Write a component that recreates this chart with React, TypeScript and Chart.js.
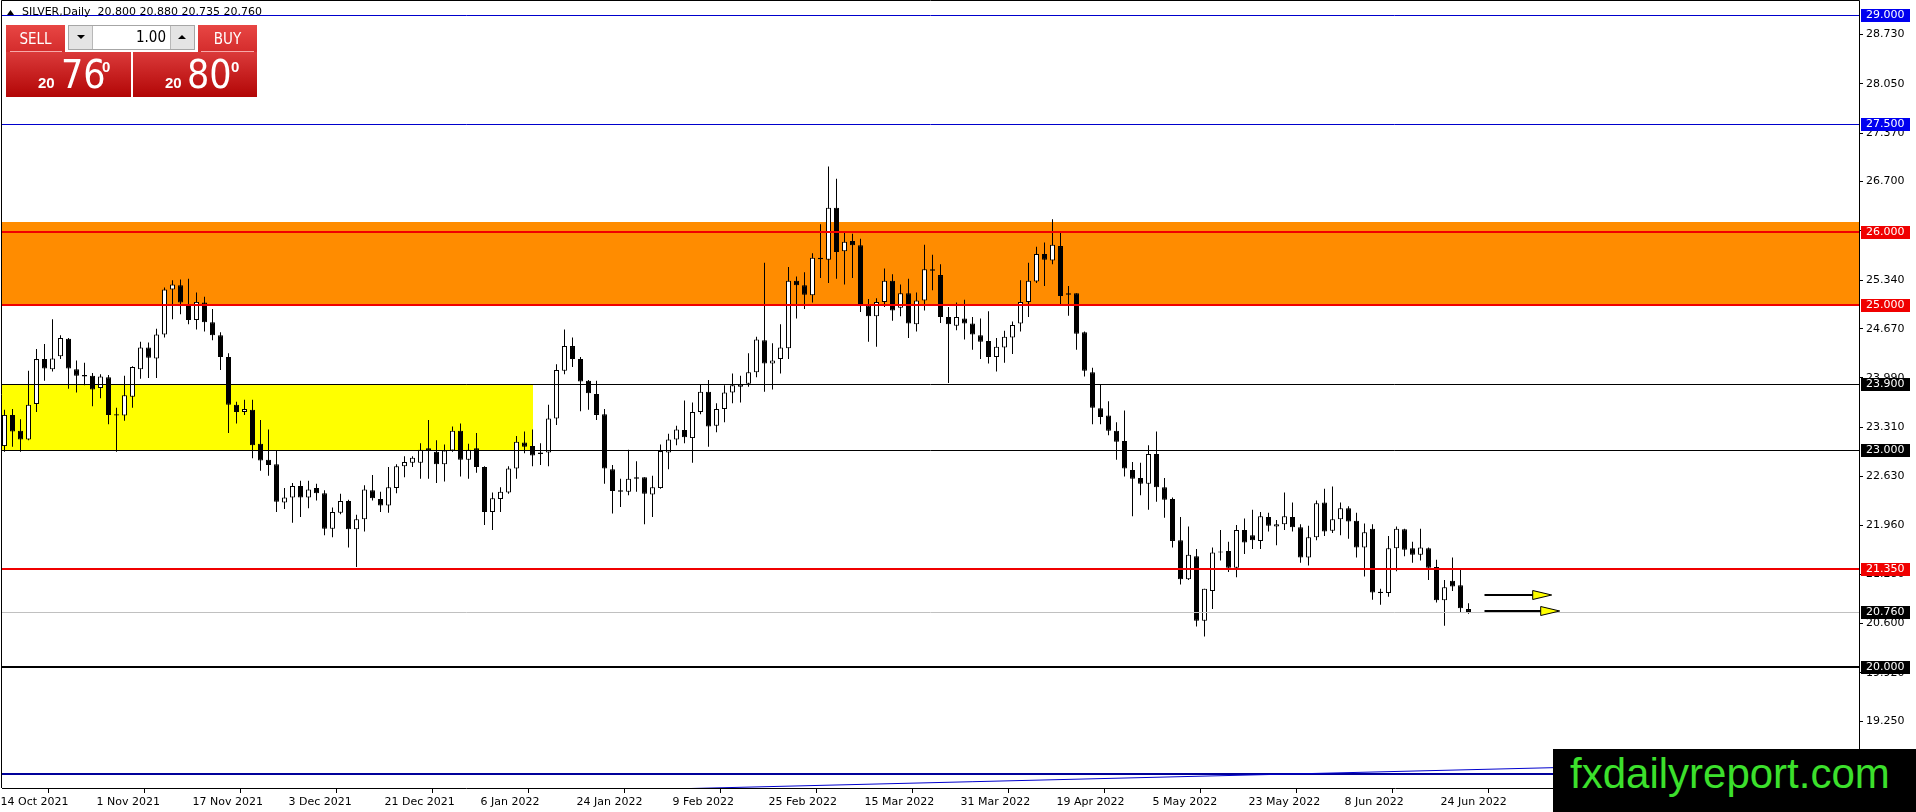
import React, { useEffect, useRef } from "react";
import { Chart, registerables } from "chart.js";

Chart.register(...registerables);

// ---------- data ----------
const SYMBOL = "SILVER,Daily";

const OPEN = [
  23.05, 23.48, 23.26, 23.14, 23.63, 24.25, 24.11, 24.29, 24.53, 24.11,
  24.03, 24.02, 23.85, 24.0, 23.49, 23.47, 23.73, 24.11, 24.41, 24.26,
  24.59, 25.21, 25.27, 25.01, 24.79, 25.03, 24.76, 24.58, 24.28, 23.62,
  23.52, 23.55, 23.08, 22.86, 22.8, 22.27, 22.34, 22.5, 22.34, 22.47,
  22.4, 21.91, 22.13, 22.29, 21.9, 22.04, 22.44, 22.32, 22.23, 22.47,
  22.77, 22.82, 22.82, 23.02, 22.97, 22.8, 22.99, 23.26, 22.86, 23.02,
  22.76, 22.14, 22.32, 22.41, 22.74, 23.1, 23.05, 22.94, 22.96, 23.43,
  24.09, 24.43, 24.25, 23.95, 23.77, 23.49, 22.73, 22.44, 22.42, 22.62,
  22.62, 22.38, 22.47, 22.96, 23.14, 23.27, 23.16, 23.52, 23.8, 23.33,
  23.56, 23.79, 23.87, 23.91, 24.07, 24.51, 24.19, 24.25, 24.4, 25.33,
  25.27, 25.13, 25.65, 25.62, 26.34, 25.74, 25.88, 25.82, 24.99, 24.84,
  25.04, 25.33, 24.96, 25.16, 24.73, 25.06, 25.49, 25.41, 24.83, 24.71,
  24.81, 24.74, 24.58, 24.5, 24.28, 24.41, 24.55, 24.74, 25.04, 25.32,
  25.7, 25.61, 25.81, 25.16, 25.16, 24.62, 24.07, 23.57, 23.47, 23.26,
  23.12, 22.72, 22.61, 22.53, 22.94, 22.48, 22.32, 21.75, 21.21, 21.53,
  20.64, 21.05, 21.58, 21.6, 21.37, 21.89, 21.82, 21.74, 22.07, 21.94,
  21.97, 22.07, 21.93, 21.51, 21.79, 22.27, 21.88, 22.04, 22.19, 22.02,
  21.65, 21.91, 21.04, 21.02, 21.64, 21.9, 21.64, 21.55, 21.64, 21.38,
  20.92, 21.19, 21.13, 20.8,
];

const HIGH = [
  23.55, 23.56, 23.42, 24.09, 24.39, 24.46, 24.8, 24.58, 24.54, 24.23,
  24.2, 24.06, 24.04, 24.03, 23.58, 24.02, 24.15, 24.49, 24.48, 24.67,
  25.24, 25.34, 25.35, 25.36, 25.17, 25.11, 24.94, 24.62, 24.33, 23.66,
  23.69, 23.69, 23.41, 23.28, 22.99, 22.47, 22.54, 22.57, 22.57, 22.53,
  22.44, 22.2, 22.39, 22.31, 22.1, 22.51, 22.65, 22.42, 22.76, 22.8,
  22.91, 22.91, 23.09, 23.41, 23.13, 23.07, 23.32, 23.36, 23.08, 23.23,
  22.77, 22.41, 22.48, 22.77, 23.19, 23.25, 23.28, 23.09, 23.62, 24.18,
  24.66, 24.55, 24.28, 23.96, 23.95, 23.56, 22.79, 22.6, 23.0, 22.84,
  22.62, 22.64, 23.07, 23.22, 23.33, 23.68, 23.65, 23.9, 23.96, 23.64,
  23.89, 24.05, 24.02, 24.33, 24.56, 25.58, 24.47, 24.73, 25.52, 25.39,
  25.45, 25.71, 26.11, 26.91, 26.74, 26.02, 25.98, 25.91, 25.08, 25.09,
  25.5, 25.42, 25.28, 25.36, 25.17, 25.83, 25.69, 25.56, 24.97, 25.03,
  25.07, 24.83, 24.81, 24.91, 24.54, 24.64, 24.77, 25.34, 25.58, 25.8,
  25.86, 26.18, 25.99, 25.26, 25.16, 24.63, 24.13, 23.9, 23.67, 23.38,
  23.54, 22.83, 22.82, 23.06, 23.25, 22.61, 22.34, 22.07, 21.94, 21.63,
  21.08, 21.65, 21.89, 21.73, 21.96, 22.05, 22.17, 22.14, 22.13, 22.03,
  22.41, 22.27, 21.97, 21.95, 22.3, 22.46, 22.49, 22.27, 22.22, 22.13,
  21.98, 21.97, 21.08, 21.81, 21.94, 21.91, 21.73, 21.91, 21.65, 21.48,
  21.2, 21.51, 21.34, 20.88,
];

const LOW = [
  22.97, 23.04, 22.97, 23.13, 23.52, 23.95, 24.08, 24.25, 23.84, 23.79,
  23.89, 23.6, 23.71, 23.35, 22.97, 23.4, 23.58, 23.98, 23.99, 23.99,
  24.55, 24.8, 24.87, 24.73, 24.66, 24.63, 24.51, 24.1, 23.23, 23.36,
  23.48, 22.88, 22.71, 22.64, 22.14, 22.18, 21.99, 22.07, 22.19, 22.3,
  21.82, 21.79, 22.11, 21.65, 21.38, 21.87, 22.3, 22.14, 22.13, 22.4,
  22.62, 22.76, 22.6, 22.6, 22.54, 22.56, 22.97, 22.63, 22.6, 22.68,
  21.96, 21.89, 22.14, 22.39, 22.6, 22.95, 22.77, 22.79, 22.77, 23.34,
  24.04, 24.14, 23.53, 23.55, 23.41, 22.53, 22.12, 22.21, 22.37, 22.42,
  21.97, 22.07, 22.46, 22.73, 23.06, 23.09, 22.82, 23.49, 23.04, 23.24,
  23.38, 23.64, 23.65, 23.87, 24.0, 23.8, 23.83, 24.05, 24.25, 24.81,
  24.94, 25.03, 25.37, 25.3, 25.36, 25.28, 25.37, 24.9, 24.49, 24.42,
  24.97, 24.78, 24.84, 24.54, 24.63, 24.92, 25.2, 24.75, 23.92, 24.65,
  24.52, 24.38, 24.25, 24.19, 24.08, 24.2, 24.32, 24.63, 24.83, 25.3,
  25.26, 25.56, 25.01, 24.85, 24.38, 24.01, 23.35, 23.35, 23.2, 22.86,
  22.63, 22.08, 22.37, 22.17, 22.28, 22.06, 21.65, 21.14, 21.2, 20.56,
  20.42, 20.8, 21.47, 21.31, 21.24, 21.56, 21.63, 21.63, 21.87, 21.68,
  21.89, 21.87, 21.44, 21.4, 21.75, 21.81, 21.85, 21.82, 21.77, 21.51,
  21.25, 20.93, 20.86, 20.97, 21.32, 21.53, 21.44, 21.47, 21.2, 20.89,
  20.57, 21.05, 20.75, 20.735,
];

const CLOSE = [
  23.48, 23.25, 23.14, 23.62, 24.25, 24.12, 24.26, 24.54, 24.12, 24.02,
  24.01, 23.83, 24.01, 23.48, 23.47, 23.75, 24.14, 24.41, 24.27, 24.59,
  25.21, 25.28, 25.03, 24.79, 25.04, 24.76, 24.58, 24.28, 23.62, 23.52,
  23.56, 23.06, 22.85, 22.79, 22.28, 22.34, 22.5, 22.34, 22.45, 22.4,
  21.91, 22.14, 22.29, 21.9, 22.04, 22.45, 22.33, 22.23, 22.48, 22.77,
  22.83, 22.89, 23.0, 22.98, 22.8, 22.99, 23.26, 22.86, 23.0, 22.76,
  22.14, 22.33, 22.42, 22.74, 23.11, 23.04, 22.92, 22.96, 23.43, 24.1,
  24.43, 24.25, 23.94, 23.78, 23.48, 22.74, 22.43, 22.42, 22.6, 22.6,
  22.39, 22.48, 22.98, 23.14, 23.28, 23.17, 23.52, 23.8, 23.32, 23.56,
  23.79, 23.89, 23.9, 24.07, 24.52, 24.19, 24.23, 24.41, 25.33, 25.27,
  25.14, 25.65, 25.63, 26.34, 25.73, 25.87, 25.82, 24.99, 24.84, 25.04,
  25.33, 24.92, 25.16, 24.74, 25.06, 25.49, 25.47, 24.83, 24.73, 24.83,
  24.74, 24.59, 24.49, 24.28, 24.42, 24.56, 24.72, 25.04, 25.33, 25.7,
  25.62, 25.83, 25.12, 25.14, 24.6, 24.09, 23.58, 23.45, 23.26, 23.11,
  22.74, 22.6, 22.53, 22.94, 22.48, 22.31, 21.74, 21.21, 21.55, 20.64,
  21.08, 21.58, 21.59, 21.37, 21.89, 21.72, 21.75, 22.08, 21.95, 21.97,
  22.08, 21.93, 21.51, 21.79, 22.26, 21.87, 22.04, 22.19, 22.01, 21.65,
  21.86, 21.03, 21.02, 21.64, 21.91, 21.62, 21.55, 21.65, 21.37, 20.92,
  21.1, 21.11, 20.81, 20.76,
];

const DATE_LABELS = [
  "14 Oct 2021", "1 Nov 2021", "17 Nov 2021", "3 Dec 2021", "21 Dec 2021",
  "6 Jan 2022", "24 Jan 2022", "9 Feb 2022", "25 Feb 2022", "15 Mar 2022",
  "31 Mar 2022", "19 Apr 2022", "5 May 2022", "23 May 2022", "8 Jun 2022",
  "24 Jun 2022",
];
const DATE_LABEL_BARS = [0, 12, 24, 36, 48, 60, 72, 84, 96, 108, 120, 132, 144, 156, 168, 180];

const PRICE_TICKS = [
  18.57, 19.25, 19.92, 20.6, 21.28, 21.96, 22.63, 23.31, 23.99, 24.67,
  25.34, 26.02, 26.7, 27.37, 28.05, 28.73,
];

const ORANGE_ZONE = [25.0, 26.14];
const YELLOW_ZONE = [23.0, 23.9];
const YELLOW_ZONE_END_BAR = 66;

const LEVELS = [29.0, 27.5, 26.0, 25.0, 23.9, 23.0, 21.35, 20.76, 20.0];
const LEVEL_COLORS = ["#0000cd", "#0000cd", "#f00000", "#f00000", "#000000", "#000000", "#f00000", "#c0c0c0", "#000000"];
const LEVEL_WIDTHS = [1, 1, 2, 2, 1, 1, 2, 1, 2];
const LEVEL_LABEL_BG = ["#0000f0", "#0000f0", "#f00000", "#f00000", "#000000", "#000000", "#f00000", "#000000", "#000000"];

const BASE_LINE = 18.52;
const TREND_BARS = [84, 231.8];
const TREND_PRICES = [18.318, 18.712];

const ARROW_PRICES = [20.99, 20.77];
const ARROW_FROM = [185.0, 185.0];
const ARROW_TO = [193.4, 194.4];

// ---------- scale extents ----------
const X_MIN = -0.3125;
const X_MAX = 231.8125;
const Y_MIN = 18.3298;
const Y_MAX = 29.1794;
const LABEL_SHIFT = 0.5; // time labels sit on the bar's left edge

const FONT = '"DejaVu Sans", sans-serif';

const overlayPlugin = {
  id: "mtOverlay",
  beforeDatasetsDraw(chart: any) {
    const { ctx, chartArea: a, scales } = chart;
    const x = scales.x;
    const y = scales.y;
    ctx.save();
    const oTop = y.getPixelForValue(ORANGE_ZONE[1]);
    const oBot = y.getPixelForValue(ORANGE_ZONE[0]);
    ctx.fillStyle = "#ff8c00";
    ctx.fillRect(a.left, Math.round(oTop), a.right - a.left, Math.round(oBot) - Math.round(oTop));
    const yTop = y.getPixelForValue(YELLOW_ZONE[1]);
    const yBot = y.getPixelForValue(YELLOW_ZONE[0]);
    const yRight = x.getPixelForValue(YELLOW_ZONE_END_BAR);
    ctx.fillStyle = "#ffff00";
    ctx.fillRect(a.left, Math.round(yTop), Math.round(yRight) - a.left, Math.round(yBot) - Math.round(yTop));
    ctx.restore();
  },
  afterDatasetsDraw(chart: any) {
    const { ctx, chartArea: a, scales } = chart;
    const x = scales.x;
    const y = scales.y;
    ctx.save();
    ctx.beginPath();
    ctx.rect(a.left, a.top, a.right - a.left, a.bottom - a.top);
    ctx.clip();

    LEVELS.forEach((v, k) => {
      const py = Math.round(y.getPixelForValue(v));
      const w = LEVEL_WIDTHS[k];
      ctx.strokeStyle = LEVEL_COLORS[k];
      ctx.lineWidth = w;
      const yy = w % 2 === 1 ? py + 0.5 : py;
      ctx.beginPath();
      ctx.moveTo(a.left, yy);
      ctx.lineTo(a.right, yy);
      ctx.stroke();
    });

    const by = Math.round(y.getPixelForValue(BASE_LINE));
    ctx.strokeStyle = "#00009a";
    ctx.lineWidth = 2;
    ctx.beginPath();
    ctx.moveTo(a.left, by);
    ctx.lineTo(a.right, by);
    ctx.stroke();

    ctx.strokeStyle = "#0000cd";
    ctx.lineWidth = 1;
    ctx.beginPath();
    ctx.moveTo(x.getPixelForValue(TREND_BARS[0]), y.getPixelForValue(TREND_PRICES[0]));
    ctx.lineTo(x.getPixelForValue(TREND_BARS[1]), y.getPixelForValue(TREND_PRICES[1]));
    ctx.stroke();

    ARROW_PRICES.forEach((p, k) => {
      const py = Math.round(y.getPixelForValue(p));
      const x0 = x.getPixelForValue(ARROW_FROM[k]);
      const x1 = x.getPixelForValue(ARROW_TO[k]);
      const headLen = 19;
      ctx.strokeStyle = "#000";
      ctx.lineWidth = 2;
      ctx.beginPath();
      ctx.moveTo(x0, py);
      ctx.lineTo(x1 - headLen + 1, py);
      ctx.stroke();
      ctx.beginPath();
      ctx.moveTo(x1 - headLen, py - 4.5);
      ctx.lineTo(x1, py);
      ctx.lineTo(x1 - headLen, py + 4.5);
      ctx.closePath();
      ctx.fillStyle = "#ffff00";
      ctx.fill();
      ctx.lineWidth = 1;
      ctx.strokeStyle = "#000";
      ctx.stroke();
    });
    ctx.restore();
  },
  afterDraw(chart: any) {
    const { ctx, chartArea: a, scales } = chart;
    const y = scales.y;
    ctx.save();

    ctx.strokeStyle = "#000";
    ctx.lineWidth = 1;
    ctx.beginPath();
    ctx.moveTo(1.5, a.bottom);
    ctx.lineTo(1.5, 0.5);
    ctx.lineTo(a.right + 0.5, 0.5);
    ctx.lineTo(a.right + 0.5, a.bottom);
    ctx.stroke();

    const n = OPEN.length - 1;
    ctx.fillStyle = "#000";
    ctx.beginPath();
    ctx.moveTo(7, 15);
    ctx.lineTo(14, 15);
    ctx.lineTo(10.5, 10);
    ctx.closePath();
    ctx.fill();
    ctx.font = `11px ${FONT}`;
    ctx.textBaseline = "middle";
    ctx.textAlign = "left";
    const header = `${SYMBOL}  ${OPEN[n].toFixed(3)} ${HIGH[n].toFixed(3)} ${LOW[n].toFixed(3)} ${CLOSE[n].toFixed(3)}`;
    ctx.fillText(header, 22, 12.5);

    LEVELS.forEach((v, k) => {
      const py = Math.round(y.getPixelForValue(v));
      ctx.fillStyle = LEVEL_LABEL_BG[k];
      ctx.fillRect(a.right + 2, py - 6, 49, 13);
      ctx.fillStyle = "#fff";
      ctx.fillText(v.toFixed(3), a.right + 7, py + 0.5);
    });
    ctx.restore();
  },
};

export default function App() {
  const canvasRef = useRef<HTMLCanvasElement | null>(null);

  useEffect(() => {
    const canvas = canvasRef.current;
    if (!canvas) return;
    const wickData = HIGH.map((h, i) => ({ x: i, y: [LOW[i], h] }));
    const bodyData = OPEN.map((o, i) => ({ x: i, y: [o, CLOSE[i]] }));
    const bodyColors = OPEN.map((o, i) => (CLOSE[i] >= o ? "#ffffff" : "#000000"));

    const chart = new Chart(canvas, {
      type: "bar",
      data: {
        datasets: [
          {
            data: wickData as any,
            backgroundColor: "#000000",
            borderWidth: 0,
            barThickness: 1,
            grouped: false,
            inflateAmount: 0,
            order: 2,
          } as any,
          {
            data: bodyData as any,
            backgroundColor: bodyColors,
            borderColor: "#000000",
            borderWidth: 1,
            borderSkipped: false,
            barThickness: 5,
            minBarLength: 1,
            grouped: false,
            inflateAmount: 0,
            order: 1,
          } as any,
        ],
      },
      options: {
        animation: false,
        responsive: false,
        maintainAspectRatio: false,
        devicePixelRatio: 1,
        events: [],
        layout: { padding: { left: 2, top: 2, right: 0, bottom: 0 } },
        plugins: {
          legend: { display: false },
          tooltip: { enabled: false },
        },
        scales: {
          x: {
            type: "linear",
            min: X_MIN,
            max: X_MAX,
            offset: false,
            afterBuildTicks: (scale: any) => {
              scale.ticks = DATE_LABEL_BARS.map((v) => ({ value: v - LABEL_SHIFT }));
            },
            afterFit: (scale: any) => {
              scale.height = 24;
              scale.paddingLeft = 0;
              scale.paddingRight = 0;
            },
            ticks: {
              autoSkip: false,
              maxRotation: 0,
              minRotation: 0,
              align: "start",
              padding: 3,
              color: "#000",
              font: { family: FONT, size: 11 },
              callback: (value: any) => {
                const k = DATE_LABEL_BARS.indexOf(Math.round(Number(value) + LABEL_SHIFT));
                return k >= 0 ? DATE_LABELS[k] : "";
              },
            },
            grid: {
              drawOnChartArea: false,
              drawTicks: true,
              tickLength: 5,
              color: "#000",
              tickColor: "#000",
            },
            border: { display: true, color: "#000", width: 1 },
          },
          y: {
            type: "linear",
            position: "right",
            min: Y_MIN,
            max: Y_MAX,
            afterBuildTicks: (scale: any) => {
              scale.ticks = PRICE_TICKS.map((v) => ({ value: v }));
            },
            afterFit: (scale: any) => {
              scale.width = 57;
              scale.paddingTop = 0;
              scale.paddingBottom = 0;
            },
            ticks: {
              padding: 3,
              color: "#000",
              font: { family: FONT, size: 11 },
              callback: (value: any) => Number(value).toFixed(3),
            },
            grid: {
              drawOnChartArea: false,
              drawTicks: true,
              tickLength: 4,
              color: "#000",
              tickColor: "#000",
            },
            border: { display: true, color: "#000", width: 1 },
          },
        },
      } as any,
      plugins: [overlayPlugin as any],
    });
    return () => chart.destroy();
  }, []);

  const tabBg = "linear-gradient(#e84644, #d42c2c)";
  const boxBg = "linear-gradient(#db3a3a, #b20606)";
  const narrow = '"Liberation Sans Narrow", "DejaVu Sans Condensed", "Liberation Sans", sans-serif';
  const sans = '"Liberation Sans", Arial, sans-serif';

  const abs = (l: number, t: number, w: number, h: number, extra: any = {}) => ({
    position: "absolute" as const,
    left: l,
    top: t,
    width: w,
    height: h,
    ...extra,
  });

  return (
    <div style={{ position: "fixed", left: 0, top: 0, width: 1916, height: 812, overflow: "hidden", background: "#fff" }}>
      <canvas ref={canvasRef} width={1916} height={812} style={{ position: "absolute", left: 0, top: 0, display: "block" }} />

      {/* one-click trading panel */}
      <div style={abs(6, 25, 59, 27, { background: tabBg })} />
      <div style={abs(198, 25, 59, 27, { background: tabBg })} />
      <div style={abs(6, 52, 125, 45, { background: boxBg })} />
      <div style={abs(133, 52, 124, 45, { background: boxBg })} />
      <div style={abs(10, 51, 52, 1, { background: "rgba(255,200,200,0.8)" })} />
      <div style={abs(201, 51, 53, 1, { background: "rgba(255,200,200,0.8)" })} />
      <div style={abs(6, 29, 59, 20, { color: "#fff", font: `15px ${narrow}`, lineHeight: "20px", textAlign: "center" })}>SELL</div>
      <div style={abs(198, 29, 59, 20, { color: "#fff", font: `15px ${narrow}`, lineHeight: "20px", textAlign: "center" })}>BUY</div>

      {/* lot spinner */}
      <div style={abs(68, 25, 127, 25, { background: "#fff", border: "1px solid #a6a6a6", boxSizing: "border-box" })} />
      <div style={abs(69, 26, 24, 23, { background: "#e4e4e4", borderRight: "1px solid #b8b8b8", boxSizing: "border-box" })} />
      <div style={abs(170, 26, 24, 23, { background: "#e4e4e4", borderLeft: "1px solid #b8b8b8", boxSizing: "border-box" })} />
      <div style={abs(77, 35, 0, 0, { borderLeft: "4px solid transparent", borderRight: "4px solid transparent", borderTop: "4px solid #000" })} />
      <div style={abs(178, 35, 0, 0, { borderLeft: "4px solid transparent", borderRight: "4px solid transparent", borderBottom: "4px solid #000" })} />
      <div style={abs(93, 27, 73, 20, { font: `15px ${narrow}`, lineHeight: "20px", textAlign: "right", color: "#000" })}>1.00</div>

      {/* sell price */}
      <div style={abs(38, 75, 20, 15, { color: "#fff", font: `bold 15px ${sans}`, lineHeight: "15px" })}>20</div>
      <div style={abs(61, 55, 45, 39, { color: "#fff", font: `39px ${narrow}`, lineHeight: "39px" })}>76</div>
      <div style={abs(102, 59, 12, 15, { color: "#fff", font: `bold 15px ${sans}`, lineHeight: "15px" })}>0</div>

      {/* buy price */}
      <div style={abs(165, 75, 20, 15, { color: "#fff", font: `bold 15px ${sans}`, lineHeight: "15px" })}>20</div>
      <div style={abs(187, 55, 45, 39, { color: "#fff", font: `39px ${narrow}`, lineHeight: "39px" })}>80</div>
      <div style={abs(231, 59, 12, 15, { color: "#fff", font: `bold 15px ${sans}`, lineHeight: "15px" })}>0</div>

      {/* watermark */}
      <div style={abs(1553, 749, 363, 63, { background: "#000" })}>
        <div style={{ position: "absolute", left: 17, top: 4, font: `42px ${sans}`, lineHeight: "42px", color: "#3ce02c", whiteSpace: "nowrap" }}>
          fxdailyreport.com
        </div>
      </div>
    </div>
  );
}
